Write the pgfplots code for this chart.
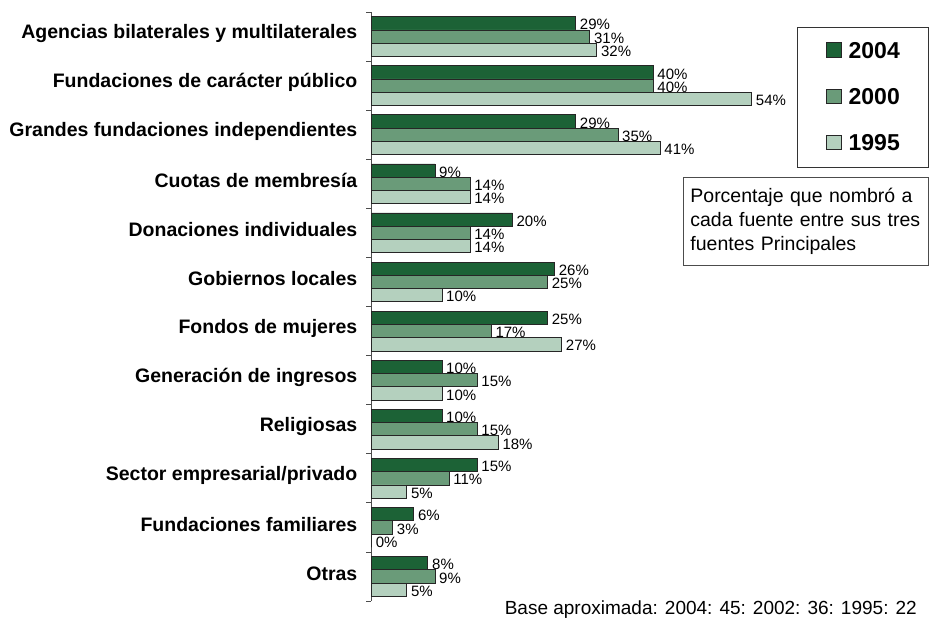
\documentclass[border=0pt]{standalone}
\usepackage{pgfplots}
\pgfplotsset{compat=1.18}
\usepackage{pgfplotstable}
\usepackage{fontspec}
\setmainfont{Liberation Sans}
\definecolor{c2004}{RGB}{28,98,54}
\definecolor{c2000}{RGB}{106,155,121}
\definecolor{c1995}{RGB}{180,208,190}
\pgfplotstableread{
y v2004 v2000 v1995
11 29 31 32
10 40 40 54
9 29 35 41
8 9 14 14
7 20 14 14
6 26 25 10
5 25 17 27
4 10 15 10
3 10 15 18
2 15 11 5
1 6 3 0
0 8 9 5
}\data
\begin{document}
\begin{tikzpicture}
\useasboundingbox (0,0) rectangle (930pt,619pt);
\begin{axis}[
 at={(371.5pt,18pt)}, anchor=south west,
 scale only axis, width=549.1pt, height=589pt,
 xmin=0, xmax=78, ymin=-0.5, ymax=11.5,
 xbar, bar width=0.27,
 axis x line=none, axis y line=left,
 axis line style={-, draw=black!70, line width=0.8pt},
 xtick=\empty,
 ytick={0,...,11},
 yticklabels={Otras, Fundaciones familiares, Sector empresarial/privado, Religiosas, Generación de ingresos, Fondos de mujeres, Gobiernos locales, Donaciones individuales, Cuotas de membresía, Grandes fundaciones independientes, Fundaciones de carácter público, Agencias bilaterales y multilaterales},
 minor ytick={-0.5,0.5,...,11.5},
 major tick length=0pt, minor tick length=5pt, tick align=outside,
 tick style={draw=black!70, line width=0.8pt},
 yticklabel style={font=\fontsize{19.5}{21}\selectfont\bfseries, inner sep=0pt, xshift=-14pt, yshift=3pt},
 clip=false,
 point meta=x,
 /pgf/number format/assume math mode=true,
 nodes near coords={\pgfmathprintnumber{\pgfplotspointmeta}\%},
 nodes near coords style={font=\fontsize{15}{15}\selectfont, anchor=west, inner sep=0pt, xshift=4pt, yshift=-1.5pt, text=black},
 every axis plot/.append style={draw=black!85, line width=0.7pt},
 legend image code/.code={\draw[#1] (0pt,-6pt) rectangle (14.5pt,8.5pt);},
 legend style={at={(axis description cs:0.775,0.9745)}, anchor=north west, draw=black!80, line width=0.8pt, fill=white, inner xsep=29pt, inner ysep=15pt, row sep=28.5pt, font=\fontsize{23}{23}\selectfont\bfseries, nodes={inner sep=0pt}, /tikz/every odd column/.append style={column sep=7pt}},
 legend cell align=left,
]
\addplot[fill=c2004, bar shift=0.27] table[x=v2004, y=y] {\data};
\addplot[fill=c2000, bar shift=0] table[x=v2000, y=y] {\data};
\addplot[fill=c1995, bar shift=-0.27] table[x=v1995, y=y] {\data};
\legend{2004, 2000, 1995}
\node[draw=black!70, line width=0.8pt, anchor=north west, text width=231pt, inner xsep=7pt, minimum height=88pt, align=left, font=\fontsize{19.5}{24}\selectfont] at (axis description cs:0.5673,0.7199) {Porcentaje que nombró a\\cada fuente entre sus tres\\fuentes Principales};
\node[anchor=base east, font=\fontsize{19}{19}\selectfont, inner sep=0pt] at (axis description cs:0.9934,-0.0221) {Base aproximada: 2004: 45: 2002: 36: 1995: 22};
\end{axis}
\end{tikzpicture}
\end{document}
